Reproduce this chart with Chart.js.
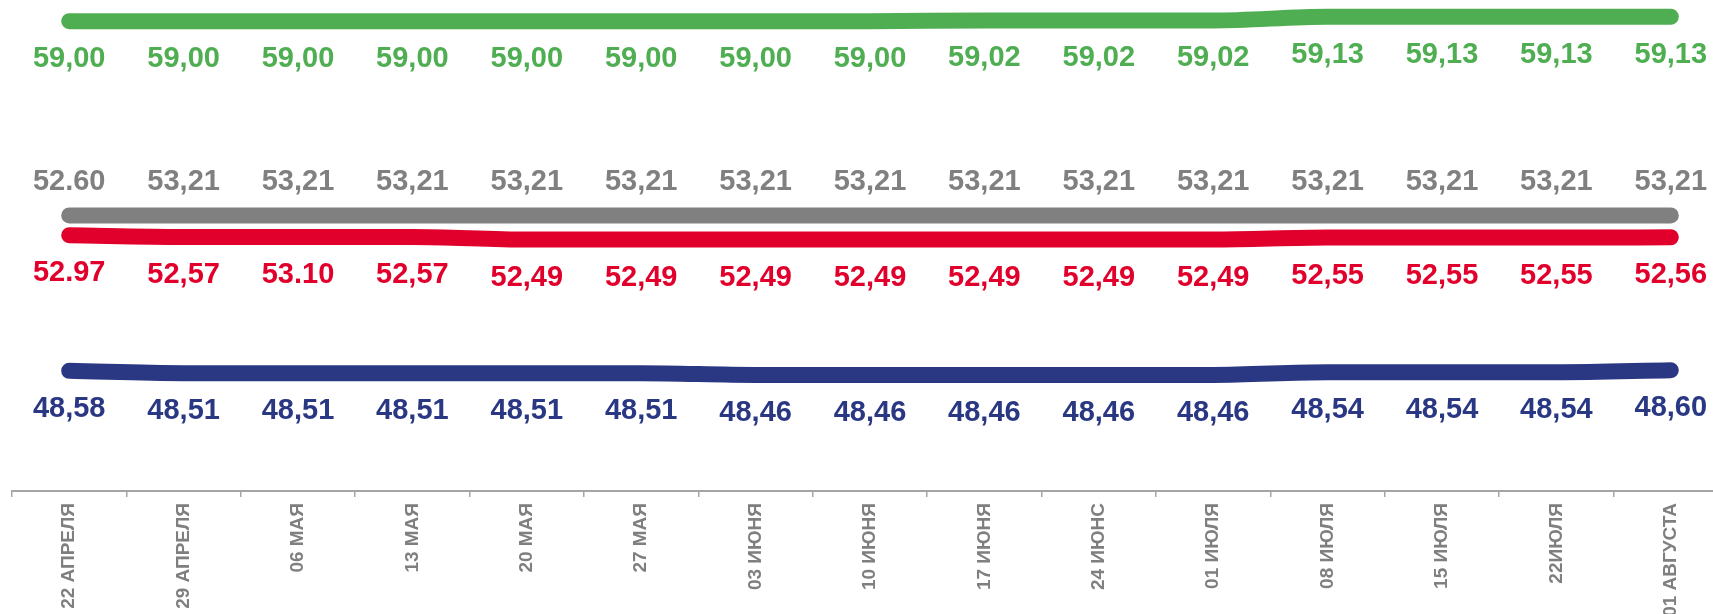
<!DOCTYPE html>
<html>
<head>
<meta charset="utf-8">
<script src="https://cdn.jsdelivr.net/npm/chart.js@4/dist/chart.umd.min.js"></script>
<style>
    html, body { margin: 0; padding: 0; background: #fff; overflow: hidden; }
    #wrap { width: 1713px; height: 614px; overflow: hidden; }
</style>
</head>
<body>
<div id="wrap"><canvas id="myLineChart" width="1730" height="614"></canvas></div>
<script>
let categories = ["22 АПРЕЛЯ", "29 АПРЕЛЯ", "06 МАЯ", "13 МАЯ", "20 МАЯ", "27 МАЯ", "03 ИЮНЯ", "10 ИЮНЯ",
                  "17 ИЮНЯ", "24 ИЮНС", "01 ИЮЛЯ", "08 ИЮЛЯ", "15 ИЮЛЯ", "22ИЮЛЯ", "01 АВГУСТА"];

// plotted values
let greenValues = [59.00, 59.00, 59.00, 59.00, 59.00, 59.00, 59.00, 59.00, 59.02, 59.02, 59.02, 59.13, 59.13, 59.13, 59.13];
let grayValues = [53.21, 53.21, 53.21, 53.21, 53.21, 53.21, 53.21, 53.21, 53.21, 53.21, 53.21, 53.21, 53.21, 53.21, 53.21];
let redValues = [52.62, 52.57, 52.57, 52.57, 52.49, 52.49, 52.49, 52.49, 52.49, 52.49, 52.49, 52.55, 52.55, 52.55, 52.56];
let blueValues = [48.58, 48.51, 48.51, 48.51, 48.51, 48.51, 48.46, 48.46, 48.46, 48.46, 48.46, 48.54, 48.54, 48.54, 48.60];

// label texts as printed on the chart
let greenLabels = ["59,00", "59,00", "59,00", "59,00", "59,00", "59,00", "59,00", "59,00", "59,02", "59,02", "59,02", "59,13", "59,13", "59,13", "59,13"];
let grayLabels = ["52.60", "53,21", "53,21", "53,21", "53,21", "53,21", "53,21", "53,21", "53,21", "53,21", "53,21", "53,21", "53,21", "53,21", "53,21"];
let redLabels = ["52.97", "52,57", "53.10", "52,57", "52,49", "52,49", "52,49", "52,49", "52,49", "52,49", "52,49", "52,55", "52,55", "52,55", "52,56"];
let blueLabels = ["48,58", "48,51", "48,51", "48,51", "48,51", "48,51", "48,46", "48,46", "48,46", "48,46", "48,46", "48,54", "48,54", "48,54", "48,60"];

let colors = ['#50ae52', '#808080', '#e1002b', '#2a3883'];
let fontFamily = '"Liberation Sans", Arial, sans-serif';

function makeDataset(values, texts, color, offset) {
    return {
        data: values,
        labelTexts: texts,
        labelOffset: offset,
        borderColor: color,
        backgroundColor: color,
        borderWidth: 16,
        borderCapStyle: 'round',
        borderJoinStyle: 'round',
        pointRadius: 0,
        cubicInterpolationMode: 'monotone',
        clip: false,
        fill: false
    };
}

// draws the value texts next to each point
let valueLabels = {
    id: 'valueLabels',
    afterDatasetsDraw(chart) {
        let ctx = chart.ctx;
        ctx.save();
        ctx.font = 'bold 29px ' + fontFamily;
        ctx.textAlign = 'center';
        ctx.textBaseline = 'alphabetic';
        chart.data.datasets.forEach(function (ds, i) {
            let meta = chart.getDatasetMeta(i);
            ctx.fillStyle = ds.borderColor;
            meta.data.forEach(function (pt, j) {
                ctx.fillText(ds.labelTexts[j], pt.x, pt.y + ds.labelOffset);
            });
        });
        ctx.restore();
    }
};

let canvas = document.getElementById('myLineChart');
let lineChart = new Chart(canvas, {
    type: 'line',
    data: {
        labels: categories,
        datasets: [
            makeDataset(greenValues, greenLabels, colors[0], 46),
            makeDataset(grayValues, grayLabels, colors[1], -25),
            makeDataset(redValues, redLabels, colors[2], 46),
            makeDataset(blueValues, blueLabels, colors[3], 46)
        ]
    },
    options: {
        responsive: false,
        animation: false,
        devicePixelRatio: 1,
        layout: {
            padding: { left: 12, right: 2, top: 1, bottom: 0 }
        },
        plugins: {
            legend: { display: false },
            tooltip: { enabled: false }
        },
        scales: {
            x: {
                offset: true,
                afterFit: function (scale) { scale.height = 123; },
                border: { display: true, color: '#a6a6a6', width: 2 },
                grid: {
                    offset: true,
                    drawOnChartArea: false,
                    drawTicks: true,
                    tickLength: 6,
                    color: '#a6a6a6',
                    lineWidth: 1.5
                },
                ticks: {
                    minRotation: 90,
                    maxRotation: 90,
                    autoSkip: false,
                    padding: 6,
                    color: '#7f7f7f',
                    font: { family: fontFamily, size: 19, weight: 'bold' }
                }
            },
            y: {
                display: false,
                min: 45,
                max: 59.6
            }
        }
    },
    plugins: [valueLabels]
});
</script>
</body>
</html>
